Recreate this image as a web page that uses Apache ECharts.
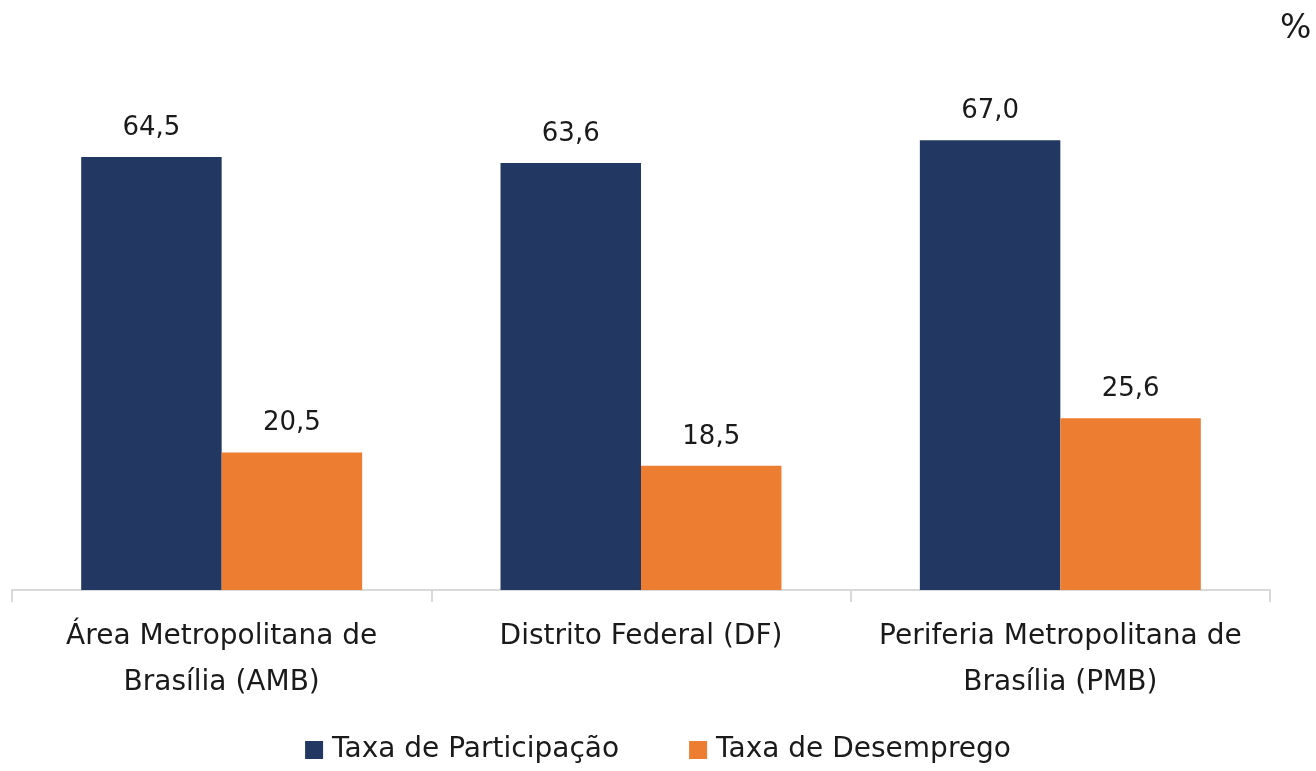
<!DOCTYPE html>
<html>
<head>
<meta charset="utf-8">
<script src="https://cdn.jsdelivr.net/npm/echarts@6/dist/echarts.min.js"></script>
<style>
  html, body { margin: 0; padding: 0; background: #fff; }
  #chart { width: 1316px; height: 771px; }
</style>
</head>
<body>
<div id="chart"></div>
<script>
// dados do gráfico
const categorias = ['Área Metropolitana de\nBrasília (AMB)', 'Distrito Federal (DF)', 'Periferia Metropolitana de\nBrasília (PMB)']
const participacao = [64.5, 63.6, 67.0]
const desemprego = [20.5, 18.5, 25.6]
const nomesSeries = ['Taxa de Participação', 'Taxa de Desemprego']

const fonte = 'DejaVu Sans, sans-serif'
const rotulo = {
  show: true,
  position: 'top',
  distance: 16,
  color: '#1a1a1a',
  fontSize: 26,
  fontFamily: fonte,
  formatter: p => p.value.toFixed(1).replace('.', ',')
}

const chart = echarts.init(document.getElementById('chart'))
chart.setOption({
  animation: false,
  textStyle: { fontFamily: fonte },
  color: ['#223761', '#ed7d31'],
  graphic: [{
    type: 'text',
    left: 1280,
    top: 13,
    style: { text: '%', fontSize: 33, fill: '#1a1a1a', fontFamily: fonte }
  }],
  grid: { left: 12, right: 46, top: 53, bottom: 181 },
  legend: {
    bottom: 2,
    left: 'center',
    itemWidth: 18,
    itemHeight: 18,
    itemGap: 70,
    icon: 'rect',
    textStyle: { fontSize: 28, color: '#1a1a1a', fontFamily: fonte, padding: [0, 0, 0, 4] },
    data: nomesSeries
  },
  xAxis: {
    type: 'category',
    data: categorias,
    axisLine: { lineStyle: { color: '#d9d9d9', width: 2 } },
    axisTick: { show: true, interval: 0, length: 12, lineStyle: { color: '#d9d9d9', width: 2 } },
    axisLabel: { interval: 0, fontSize: 28, color: '#1a1a1a', lineHeight: 46, margin: 24, fontFamily: fonte }
  },
  yAxis: {
    type: 'value',
    min: 0,
    max: 80,
    show: false,
    splitLine: { show: false }
  },
  series: [
    { name: nomesSeries[0], type: 'bar', data: participacao, barGap: '0%', barCategoryGap: '33%', label: rotulo },
    { name: nomesSeries[1], type: 'bar', data: desemprego, label: rotulo }
  ]
})
</script>
</body>
</html>
